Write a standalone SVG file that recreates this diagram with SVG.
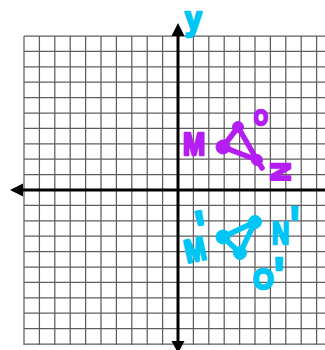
<svg xmlns="http://www.w3.org/2000/svg" width="325" height="350" viewBox="0 0 325 350">
<defs>
<style>
.grid line{stroke:#5e5e5e;stroke-width:1.25}
.axis{stroke:#000;stroke-width:3}
.lbl{font-family:"Liberation Sans","DejaVu Sans",sans-serif;font-weight:bold;stroke-width:2.4;stroke-linejoin:round}
.pr{font-size:46px}
.pur{fill:#B41EF2;stroke:#B41EF2}
.cya{fill:#00C6F6;stroke:#00C6F6}
.tri{fill:none;stroke-width:5.5;stroke-linecap:round;stroke-linejoin:round}
</style>
</defs>
<rect width="325" height="350" fill="#fff"/>
<g id="grid" class="grid">
<line x1="24" y1="36" x2="24" y2="345"/><line x1="39.4" y1="36" x2="39.4" y2="345"/><line x1="54.8" y1="36" x2="54.8" y2="345"/><line x1="70.2" y1="36" x2="70.2" y2="345"/><line x1="85.6" y1="36" x2="85.6" y2="345"/><line x1="101" y1="36" x2="101" y2="345"/><line x1="116.4" y1="36" x2="116.4" y2="345"/><line x1="131.8" y1="36" x2="131.8" y2="345"/><line x1="147.2" y1="36" x2="147.2" y2="345"/><line x1="162.6" y1="36" x2="162.6" y2="345"/><line x1="193.4" y1="36" x2="193.4" y2="345"/><line x1="208.8" y1="36" x2="208.8" y2="345"/><line x1="224.2" y1="36" x2="224.2" y2="345"/><line x1="239.6" y1="36" x2="239.6" y2="345"/><line x1="255" y1="36" x2="255" y2="345"/><line x1="270.4" y1="36" x2="270.4" y2="345"/><line x1="285.8" y1="36" x2="285.8" y2="345"/><line x1="301.2" y1="36" x2="301.2" y2="345"/><line x1="316.6" y1="36" x2="316.6" y2="345"/>
<line x1="24" y1="36" x2="325" y2="36"/><line x1="24" y1="51.4" x2="325" y2="51.4"/><line x1="24" y1="66.8" x2="325" y2="66.8"/><line x1="24" y1="82.2" x2="325" y2="82.2"/><line x1="24" y1="97.6" x2="325" y2="97.6"/><line x1="24" y1="113" x2="325" y2="113"/><line x1="24" y1="128.4" x2="325" y2="128.4"/><line x1="24" y1="143.8" x2="325" y2="143.8"/><line x1="24" y1="159.2" x2="325" y2="159.2"/><line x1="24" y1="174.6" x2="325" y2="174.6"/><line x1="24" y1="205.4" x2="325" y2="205.4"/><line x1="24" y1="220.8" x2="325" y2="220.8"/><line x1="24" y1="236.2" x2="325" y2="236.2"/><line x1="24" y1="251.6" x2="325" y2="251.6"/><line x1="24" y1="267" x2="325" y2="267"/><line x1="24" y1="282.4" x2="325" y2="282.4"/><line x1="24" y1="297.8" x2="325" y2="297.8"/><line x1="24" y1="313.2" x2="325" y2="313.2"/><line x1="24" y1="328.6" x2="325" y2="328.6"/><line x1="24" y1="344" x2="325" y2="344"/>
</g>
<g id="axes">
<line class="axis" x1="22" y1="190" x2="325" y2="190"/>
<line class="axis" x1="178" y1="34" x2="178" y2="343"/>
<polygon points="10,190 23,183.5 23,196.5" fill="#000"/>
<polygon points="178,23 171.5,36 184.5,36" fill="#000"/>
<polygon points="178,353 171.5,341 184.5,341" fill="#000"/>
<text class="lbl cya" font-size="30" transform="translate(185,30) scale(1,1.1)">y</text>
</g>
<g id="triangle-MON">
<polyline class="tri pur" points="238,127 223,147 257,160 238,127"/>
<line class="tri pur" x1="257" y1="160" x2="262" y2="168"/>
<circle cx="223" cy="147" r="7" class="pur"/>
<circle cx="238" cy="127" r="5.5" class="pur"/>
<circle cx="257" cy="160" r="5.5" class="pur"/>
<text class="lbl pur" font-size="28" transform="translate(183,155) scale(0.95,1.1)">M</text>
<text class="lbl pur" font-size="21" transform="translate(254,125) scale(0.85,1.05)">O</text>
<text class="lbl pur" font-size="27" transform="translate(271,172) rotate(90)" text-anchor="middle">N</text>
</g>
<g id="triangle-MNO-prime">
<polyline class="tri cya" points="223,237 255,222 240,253 223,237"/>
<circle cx="223" cy="237" r="7" class="cya"/>
<circle cx="255" cy="222" r="6.5" class="cya"/>
<circle cx="240" cy="253" r="6.5" class="cya"/>
<text class="lbl cya" font-size="28" transform="translate(187,263) rotate(-12) scale(0.9,1.15)">M<tspan class="pr" dx="-5" dy="-10">'</tspan></text>
<text class="lbl cya" font-size="28" transform="translate(272,244) scale(0.85,1.1)">N<tspan class="pr" dx="1" dy="-2">'</tspan></text>
<text class="lbl cya" font-size="28" transform="translate(253,289) scale(0.95,1.05)">O<tspan class="pr" dx="0" dy="2">'</tspan></text>
</g>
</svg>
